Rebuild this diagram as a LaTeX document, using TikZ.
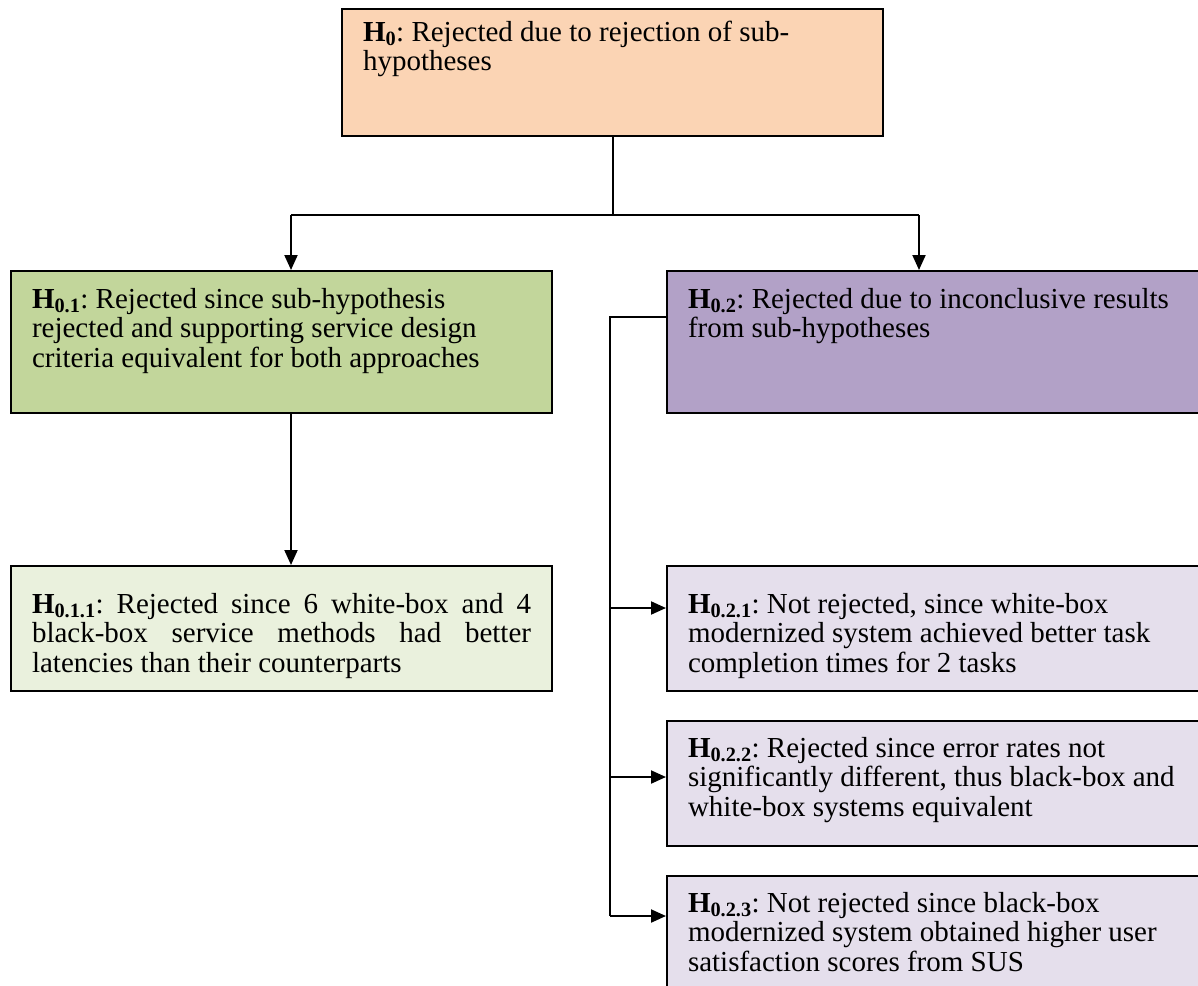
\documentclass[tikz,border=0pt]{standalone}
\usepackage{fontspec}
\setmainfont{Liberation Serif}
\usetikzlibrary{arrows.meta}
\definecolor{peach}{HTML}{FBD4B4}
\definecolor{olivegreen}{HTML}{C2D69B}
\definecolor{lavender}{HTML}{B2A1C7}
\definecolor{paleolive}{HTML}{EAF1DD}
\definecolor{palelav}{HTML}{E5DFEC}
\newcommand{\hyp}[1]{\textbf{H}\textsubscript{\textbf{#1}}}
\newcommand{\boxtxt}[5]{\parbox[c][#2][t]{#1}{\fontsize{29}{#3}\selectfont\frenchspacing\raggedright\rule{0pt}{#4}#5}}
\begin{document}
\begin{tikzpicture}[x=1pt,y=-1pt,
  hbox/.style={draw=black, line width=2pt, anchor=north west, inner xsep=21pt, inner ysep=0pt},
  conn/.style={line width=2pt},
  thinconn/.style={line width=1.4pt},
  arr/.style={line width=2pt, -{Triangle[length=15pt,width=13pt]}},
]
\useasboundingbox (0,0) rectangle (1198,985);
\fill[white] (0,0) rectangle (1198,985);

\node[hbox, fill=peach] (h0) at (341,8)
  {\boxtxt{499pt}{127pt}{29pt}{32pt}{\hyp{0}: Rejected due to rejection of sub-\\hypotheses}};
\node[hbox, fill=olivegreen] (h01) at (10,270)
  {\boxtxt{499pt}{142pt}{29.5pt}{37pt}{\hyp{0.1}: Rejected since sub-hypothesis\\rejected and supporting service design\\criteria equivalent for both approaches}};
\node[hbox, fill=lavender] (h02) at (666,270)
  {\boxtxt{503pt}{142pt}{29.5pt}{37pt}{\hyp{0.2}: Rejected due to inconclusive results\\from sub-hypotheses}};
\node[hbox, fill=paleolive] (h011) at (10,565)
  {\boxtxt{499pt}{125pt}{29.5pt}{47pt}{\makebox[499pt][s]{\hyp{0.1.1}: Rejected since 6 white-box and 4}\\\makebox[499pt][s]{black-box service methods had better}\\latencies than their counterparts}};
\node[hbox, fill=palelav] (h021) at (666,565)
  {\boxtxt{503pt}{125pt}{29.5pt}{47pt}{\hyp{0.2.1}: Not rejected, since white-box\\modernized system achieved better task\\completion times for 2 tasks}};
\node[hbox, fill=palelav] (h022) at (666,720)
  {\boxtxt{503pt}{125pt}{29.5pt}{36pt}{\hyp{0.2.2}: Rejected since error rates not\\significantly different, thus black-box and\\white-box systems equivalent}};
\node[hbox, fill=palelav] (h023) at (666,875)
  {\boxtxt{503pt}{125pt}{29.5pt}{36pt}{\hyp{0.2.3}: Not rejected since black-box\\modernized system obtained higher user\\satisfaction scores from SUS}};

\coordinate (a1) at (291,215);
\coordinate (a2) at (919,215);
\draw[conn] (h0.south) -- (h0.south |- a1);
\draw[conn] (a1) -- (a2);
\draw[arr] (a1) -- (a1 |- h01.north);
\draw[arr] (a2) -- (a2 |- h02.north);
\draw[arr] (a1 |- h01.south) -- (a1 |- h011.north);

\coordinate (bus) at (610,317);
\coordinate (t1) at (610,608);
\coordinate (t2) at (610,777);
\coordinate (t3) at (610,916);
\draw[thinconn] (h02.west |- bus) -- (bus) -- (t3);
\draw[arr] (t1) -- (t1 -| h021.west);
\draw[arr] (t2) -- (t2 -| h022.west);
\draw[arr] (t3) -- (t3 -| h023.west);
\end{tikzpicture}
\end{document}
